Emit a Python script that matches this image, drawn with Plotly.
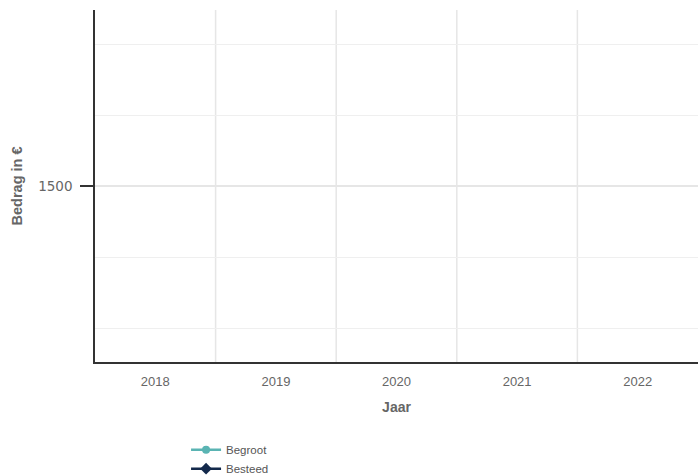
import plotly.graph_objects as go

years = ["2018", "2019", "2020", "2021", "2022"]
begroot = [None, None, None, None, None]
besteed = [None, None, None, None, None]
y_tick_vals = [1500]
y_tick_text = ["1500"]
y_minor_vals = [500, 1000, 2000, 2500]

fig = go.Figure()
fig.add_trace(go.Scatter(x=years, y=begroot, name="Begroot", mode="lines+markers",
                         line=dict(color="#5ab4b3", width=2.5),
                         marker=dict(symbol="circle", size=8, color="#5ab4b3")))
fig.add_trace(go.Scatter(x=years, y=besteed, name="Besteed", mode="lines+markers",
                         line=dict(color="#13294b", width=2.5),
                         marker=dict(symbol="diamond", size=9, color="#13294b")))

fig.update_layout(
    width=698, height=476,
    margin=dict(l=95, r=0, t=10, b=114, autoexpand=False),
    paper_bgcolor="white", plot_bgcolor="white",
    font=dict(family="Liberation Sans, Arial, sans-serif", color="#666666", size=13),
    showlegend=True,
    legend=dict(orientation="v", x=0.151, y=-0.208, xanchor="left", yanchor="top",
                font=dict(size=11.5, color="#555555"), tracegroupgap=0,
                bgcolor="rgba(0,0,0,0)"),
    xaxis=dict(
        type="category", categoryorder="array", categoryarray=years,
        range=[-0.5, 4.5],
        showline=True, linecolor="#333333", linewidth=1.5,
        showgrid=False, ticks="", zeroline=False,
        ticklabelstandoff=7,
        tickfont=dict(size=13, color="#666666"),
        title=dict(text="<b>Jaar</b>", font=dict(size=14, color="#666666"), standoff=14),
    ),
    yaxis=dict(
        range=[260, 2746],
        tickvals=y_tick_vals, ticktext=y_tick_text,
        showline=True, linecolor="#333333", linewidth=1.5,
        ticks="outside", ticklen=13, tickcolor="#333333", tickwidth=1.5,
        ticklabelstandoff=5,
        showgrid=True, gridcolor="#e6e6e6", gridwidth=1.5, zeroline=False,
        minor=dict(tickvals=y_minor_vals, showgrid=True, gridcolor="#efefef", gridwidth=1, ticks=""),
        tickfont=dict(family="DejaVu Sans, sans-serif", size=13.5, color="#666666"),
        title=dict(text="<b>Bedrag in €</b>", font=dict(size=14.5, color="#666666"), standoff=12),
    ),
)

for i in range(len(years) - 1):
    fig.add_shape(type="line", xref="x", yref="paper", x0=i + 0.5, x1=i + 0.5, y0=0, y1=1,
                  line=dict(color="#e6e6e6", width=1.5), layer="below")

post = ("document.body.style.margin='0';document.body.style.padding='0';"
        "var gd=document.getElementById('{plot_id}');"
        "Plotly.relayout(gd,{width:698,height:476});")

fig.write_html("out.html", post_script=post, config={"displayModeBar": False})
